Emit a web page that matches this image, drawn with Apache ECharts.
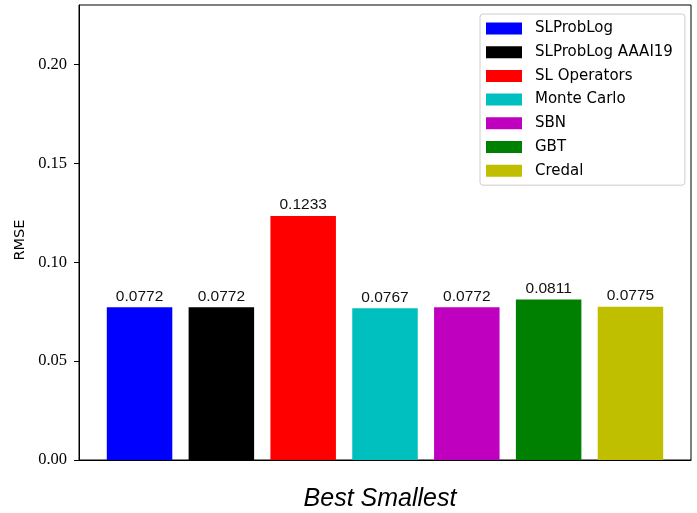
<!DOCTYPE html>
<html><head><meta charset="utf-8">
<script src="https://cdn.jsdelivr.net/npm/echarts@6/dist/echarts.min.js"></script>
<style>html,body{margin:0;padding:0;background:#fff}#c{width:697px;height:513px}</style>
</head><body><div id="c"></div>
<script>
const categories = ['SLProbLog', 'SLProbLog AAAI19', 'SL Operators', 'Monte Carlo', 'SBN', 'GBT', 'Credal'];
const values = [0.0772, 0.0772, 0.1233, 0.0767, 0.0772, 0.0811, 0.0775];
const colors = ['#0000ff', '#000000', '#ff0000', '#00bfbf', '#bf00bf', '#008000', '#bfbf00'];
const yTicks = [0, 0.05, 0.10, 0.15, 0.20];

const chart = echarts.init(document.getElementById('c'));
const series = categories.map((name, i) => ({
  name: name,
  type: 'bar',
  stack: 'all',
  barWidth: 65.5,
  itemStyle: { color: colors[i] },
  data: [[i, values[i]]],
  label: {
    show: true, position: 'top', distance: 3,
    fontFamily: 'Liberation Sans', fontSize: 15.5, color: '#111',
    formatter: p => p.value[1].toFixed(4)
  }
}));
chart.setOption({
  animation: false,
  grid: { left: 79, right: 6, top: 5, bottom: 53, show: true, borderColor: '#000', borderWidth: 1,
    outerBoundsMode: 'none', containLabel: false },
  xAxis: {
    type: 'value', min: -0.74, max: 6.74,
    axisLine: { show: true, onZero: false, lineStyle: { color: '#000' } },
    axisTick: { show: false }, axisLabel: { show: false }, splitLine: { show: false },
    name: 'Best Smallest', nameLocation: 'middle', nameGap: 27,
    nameTextStyle: { fontFamily: 'Liberation Sans', fontStyle: 'italic', fontSize: 25, color: '#000',
      padding: [0, 10, 0, 0] }
  },
  yAxis: {
    type: 'value', min: 0, max: 0.23, interval: 0.05,
    axisLine: { show: true, onZero: false, lineStyle: { color: '#000' } },
    axisTick: { show: true, length: 5, lineStyle: { color: '#000' }, customValues: yTicks },
    axisLabel: { margin: 12, fontFamily: 'Liberation Serif', fontSize: 16.5, color: '#000',
      customValues: yTicks, formatter: v => v.toFixed(2) }
    ,splitLine: { show: false }
  },
  graphic: [{
    type: 'text', x: 20, y: 240, rotation: Math.PI / 2,
    style: { text: 'RMSE', fontFamily: 'DejaVu Sans', fontSize: 14.5, fill: '#000',
      align: 'center', verticalAlign: 'middle' }
  }],
  legend: {
    orient: 'vertical', left: 480, top: 14,
    padding: [7, 12, 7, 6],
    itemWidth: 36, itemHeight: 12, itemGap: 8.7,
    borderColor: '#ccc', borderWidth: 1, borderRadius: 3, backgroundColor: '#fff',
    icon: 'rect',
    textStyle: { fontFamily: 'DejaVu Sans', fontSize: 15, color: '#000', padding: [0, 0, 0, 8] },
    data: categories
  },
  series: series
});
</script></body></html>
